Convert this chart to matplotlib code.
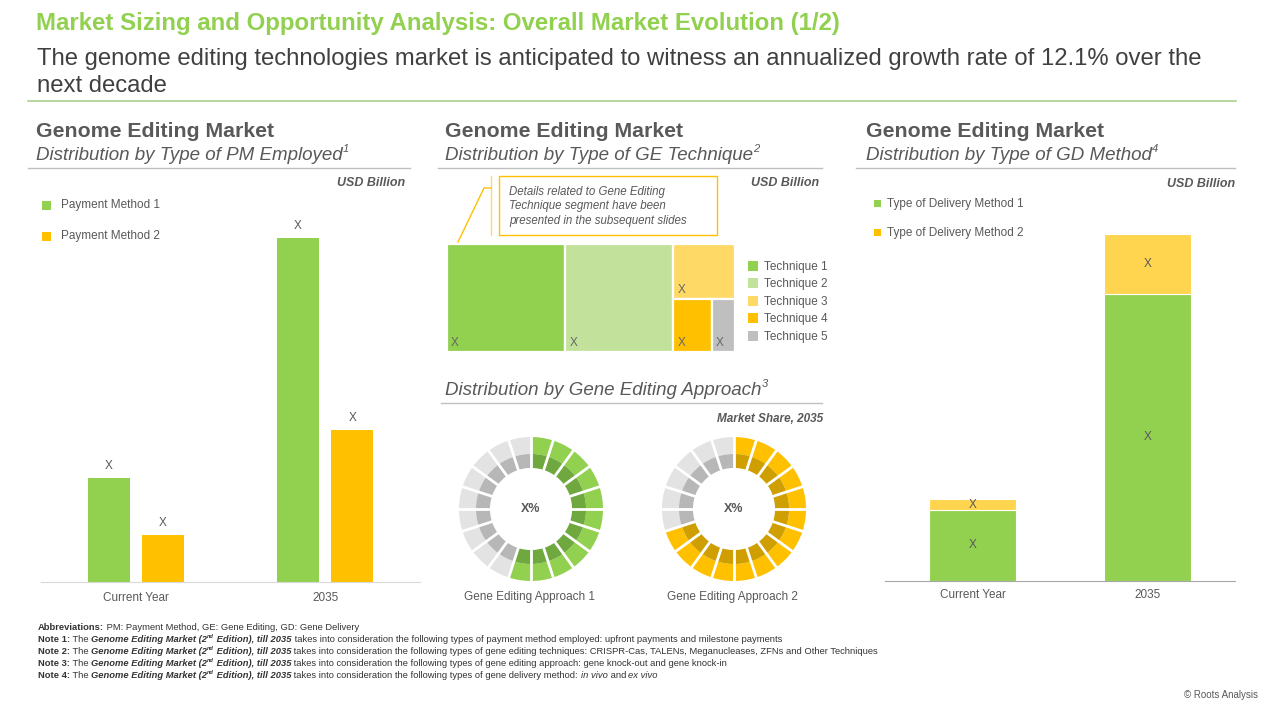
import matplotlib
matplotlib.use('Agg')
import matplotlib.pyplot as plt
from matplotlib.patches import Rectangle
from matplotlib.lines import Line2D
import numpy as np

plt.rcParams['font.family'] = ['Liberation Sans', 'DejaVu Sans']

# ---------------- data ----------------
pm_categories = ['Current Year', '2035']
pm_method1 = [1.04, 3.44]
pm_method2 = [0.47, 1.52]
pm_labels = ['Payment Method 1', 'Payment Method 2']

ge_techniques = ['Technique 1', 'Technique 2', 'Technique 3', 'Technique 4', 'Technique 5']
ge_values = [12.5, 11.4, 3.3, 2.0, 1.2]

approach_names = ['Gene Editing Approach 1', 'Gene Editing Approach 2']
approach_share = [55, 70]
approach_segments = 20

gd_categories = ['Current Year', '2035']
gd_method1 = [0.71, 2.87]
gd_method2 = [0.11, 0.60]
gd_labels = ['Type of Delivery Method 1', 'Type of Delivery Method 2']

value_text = 'X'

# ---------------- styles ----------------
GREEN = '#92D050'
YELLOW = '#FFC000'
LT_YELLOW = '#FFD54F'
LT_GREEN = '#C2E29B'
GREY = '#BFBFBF'
TXT = '#595959'
DARK = '#404040'

W, H = 1280, 720
fig = plt.figure(figsize=(12.8, 7.2), dpi=100)
fig.patch.set_facecolor('white')
R = fig.canvas.get_renderer()


def txt(x, y, s, size, color=TXT, weight='normal', style='normal', ha='left', va='baseline', **kw):
    return fig.text(x / W, 1 - y / H, s, fontsize=size, color=color, fontweight=weight,
                    fontstyle=style, ha=ha, va=va, **kw)


def fit(t, width):
    w = t.get_window_extent(R).width
    t.set_fontsize(t.get_fontsize() * width / w)
    return t


def hline(x0, x1, y, color, lw=1.0):
    fig.add_artist(Line2D([x0 / W, x1 / W], [1 - y / H, 1 - y / H], transform=fig.transFigure,
                          color=color, lw=lw))


def line(xs, ys, color, lw=1.0):
    fig.add_artist(Line2D([x / W for x in xs], [1 - y / H for y in ys], transform=fig.transFigure,
                          color=color, lw=lw))


def square(x, y, s, color):
    fig.add_artist(Rectangle((x / W, 1 - (y + s) / H), s / W, s / H, transform=fig.transFigure,
                             facecolor=color, edgecolor='none'))


def axes_px(x0, y0, x1, y1):
    return fig.add_axes([x0 / W, 1 - y1 / H, (x1 - x0) / W, (y1 - y0) / H])


def adv(s, size, weight, style):
    t1 = fig.text(0, 0, s + 'l', fontsize=size, fontweight=weight, fontstyle=style)
    t2 = fig.text(0, 0, 'l', fontsize=size, fontweight=weight, fontstyle=style)
    w = t1.get_window_extent(R).width - t2.get_window_extent(R).width
    t1.remove(); t2.remove()
    return w


def rich(x, y, parts, size, color=TXT):
    cur = x
    arts = []
    for p in parts:
        s = p[0]
        opt = p[1] if len(p) > 1 else ''
        weight = 'bold' if 'b' in opt else 'normal'
        style = 'italic' if 'i' in opt else 'normal'
        sz = size * 0.6 if 's' in opt else size
        yy = y - size * 0.42 * 100 / 72 if 's' in opt else y
        arts.append(txt(cur, yy, s, sz, color=color, weight=weight, style=style))
        cur += adv(s, sz, weight, style)
    return cur, arts


# ---------------- title area ----------------
t = txt(36, 30, 'Market Sizing and Opportunity Analysis: Overall Market Evolution (1/2)', 16,
        color=GREEN, weight='bold')
fit(t, 804)
t = txt(37, 65, 'The genome editing technologies market is anticipated to witness an annualized growth rate of 12.1% over the', 16,
        color=DARK)
fit(t, 1170)
txt(37, 92, 'next decade', t.get_fontsize(), color=DARK)
hline(28, 1236, 101, '#A9D18E', 1.2)

# ---------------- section headers ----------------
hdr = txt(36, 137, 'Genome Editing Market', 14, weight='bold')
fit(hdr, 238)
HS = hdr.get_fontsize()
txt(445, 137, 'Genome Editing Market', HS, weight='bold')
txt(866, 137, 'Genome Editing Market', HS, weight='bold')
sub = txt(36, 160, 'Distribution by Type of PM Employed', 12.5, style='italic')
fit(sub, 308)
SS = sub.get_fontsize()
sub.remove()
rich(36, 160, [('Distribution by Type of PM Employed', 'i'), ('1', 'is')], SS)
rich(445, 160, [('Distribution by Type of GE Technique', 'i'), ('2', 'is')], SS)
rich(866, 160, [('Distribution by Type of GD Method', 'i'), ('4', 'is')], SS)
rich(445, 395, [('Distribution by Gene Editing Approach', 'i'), ('3', 'is')], SS)

hline(28, 410, 168, '#BFBFBF', 1.0)
hline(438, 822, 168, '#BFBFBF', 1.0)
hline(856, 1235, 168, '#BFBFBF', 1.0)
hline(441, 822, 403, '#BFBFBF', 1.0)

txt(405, 186, 'USD Billion', 9, weight='bold', style='italic', ha='right')
txt(819, 186, 'USD Billion', 9, weight='bold', style='italic', ha='right')
txt(1235, 187, 'USD Billion', 9, weight='bold', style='italic', ha='right')
txt(823, 422, 'Market Share, 2035', 8.5, weight='bold', style='italic', ha='right')

# ---------------- left: payment method bars ----------------
ax1 = axes_px(41, 200, 420, 582)
x = np.arange(len(pm_categories))
off, bw = 0.143, 0.222
b1 = ax1.bar(x - off, pm_method1, bw, color=GREEN)
b2 = ax1.bar(x + off, pm_method2, bw, color=YELLOW)
for bars in (b1, b2):
    for b in bars:
        ax1.annotate(value_text, (b.get_x() + b.get_width() / 2, b.get_height()),
                     xytext=(0, 4), textcoords='offset points', ha='center', va='bottom',
                     fontsize=8.5, color=TXT)
ax1.set_xlim(-0.5, 1.5)
ax1.set_ylim(0, 3.82)
ax1.set_xticks(x)
ax1.set_xticklabels(pm_categories, fontsize=8.5, color=TXT)
ax1.tick_params(axis='x', length=0, pad=7)
ax1.set_yticks([])
for s in ('top', 'right', 'left'):
    ax1.spines[s].set_visible(False)
ax1.spines['bottom'].set_color('#D9D9D9')
ax1.patch.set_alpha(0)

for i, (lab, col) in enumerate(zip(pm_labels, [GREEN, YELLOW])):
    yy = 205 + i * 31
    square(42, yy - 4, 9, col)
    txt(61, yy + 3, lab, 8.5, color=TXT)

# ---------------- middle: treemap ----------------
axt = axes_px(447, 244, 735, 352)
TW, TH = 288.0, 108.0
total = sum(ge_values)
col3 = ge_values[2] + ge_values[3] + ge_values[4]
w1 = TW * ge_values[0] / total
w2 = TW * ge_values[1] / total
w3 = TW * col3 / total
h3 = TH * ge_values[2] / col3
w4 = w3 * ge_values[3] / (ge_values[3] + ge_values[4])
rects = [
    (0, 0, w1, TH),
    (w1, 0, w2, TH),
    (w1 + w2, 0, w3, h3),
    (w1 + w2, h3, w4, TH - h3),
    (w1 + w2 + w4, h3, w3 - w4, TH - h3),
]
tcolors = [GREEN, LT_GREEN, '#FFD966', YELLOW, GREY]
for (rx, ry, rw, rh), c in zip(rects, tcolors):
    axt.add_patch(Rectangle((rx, ry), rw, rh, facecolor=c, edgecolor='white', lw=1.6))
    axt.text(rx + 4, ry + rh - 3, value_text, fontsize=8.5, color='#666666', ha='left', va='bottom')
axt.set_xlim(0, TW)
axt.set_ylim(TH, 0)
axt.axis('off')

for i, (lab, c) in enumerate(zip(ge_techniques, tcolors)):
    yy = 266 + i * 17.4
    square(748, yy - 5, 10, c)
    txt(764, yy + 4, lab, 8.5, color=TXT)

# callout
fig.add_artist(Rectangle((499 / W, 1 - 235 / H), (717 - 499) / W, (235 - 176) / H,
                         transform=fig.transFigure, facecolor='white', edgecolor=YELLOW, lw=1.0))
line([491, 491], [176, 235], '#FFD966', 1.0)
line([491, 484, 458], [188, 188, 242], '#FFC000', 1.0)
for i, s in enumerate(['Details related to Gene Editing', 'Technique segment have been',
                       'presented in the subsequent slides']):
    txt(509, 195 + i * 14.3, s, 8.3, color=TXT, style='italic')

# ---------------- middle: donuts ----------------
donut_cols = [(GREEN, '#6FA83E'), (YELLOW, '#CF9E00')]
centers = [(531, 509), (734, 509)]
for (cx, cy), share, (c_out, c_in), name in zip(centers, approach_share, donut_cols, approach_names):
    r = 78
    ax = axes_px(cx - r, cy - r, cx + r, cy + r)
    k = int(round(share / 100 * approach_segments))
    outer = [c_out] * k + ['#E3E3E3'] * (approach_segments - k)
    inner = [c_in] * k + ['#B7B7B7'] * (approach_segments - k)
    seg = [1] * approach_segments
    ax.pie(seg, colors=outer, radius=1.0, startangle=90, counterclock=False,
           wedgeprops=dict(width=0.236, edgecolor='none'))
    ax.pie(seg, colors=inner, radius=0.764, startangle=90, counterclock=False,
           wedgeprops=dict(width=0.194, edgecolor='none'))
    for j in range(approach_segments):
        a = np.deg2rad(90 - j * 360 / approach_segments)
        ax.plot([0.5 * np.cos(a), 1.05 * np.cos(a)], [0.5 * np.sin(a), 1.05 * np.sin(a)],
                color='white', lw=2.0, solid_capstyle='butt')
    ax.text(0, 0, 'X%', ha='center', va='center', fontsize=9, fontweight='bold', color=TXT)
    lim = r / 72
    ax.set_xlim(-lim, lim)
    ax.set_ylim(-lim, lim)
    ax.set_aspect('equal')
    ax.axis('off')
    txt(cx - 2, 600, name, 8.5, color=TXT, ha='center')

# ---------------- right: delivery method stacked bars ----------------
ax3 = axes_px(885, 200, 1235, 581)
x = np.arange(len(gd_categories))
g1 = ax3.bar(x, gd_method1, 0.5, color=GREEN, edgecolor='white', lw=0.8)
g2 = ax3.bar(x, gd_method2, 0.5, bottom=gd_method1, color=LT_YELLOW, edgecolor='white', lw=0.8)
for i in range(len(x)):
    ax3.text(x[i], gd_method1[i] / 2, value_text, ha='center', va='center', fontsize=8.5, color=TXT)
    ax3.text(x[i], gd_method1[i] + gd_method2[i] / 2, value_text, ha='center', va='center',
             fontsize=8.5, color=TXT)
ax3.set_xlim(-0.5, 1.5)
ax3.set_ylim(0, 3.81)
ax3.set_xticks(x)
ax3.set_xticklabels(gd_categories, fontsize=8.5, color=TXT)
ax3.tick_params(axis='x', length=0, pad=6)
ax3.set_yticks([])
for s in ('top', 'right', 'left'):
    ax3.spines[s].set_visible(False)
ax3.spines['bottom'].set_color('#A6A6A6')
ax3.patch.set_alpha(0)

for i, (lab, col) in enumerate(zip(gd_labels, [GREEN, YELLOW])):
    yy = 203 + i * 29
    square(874, yy - 3, 7, col)
    txt(887, yy + 4, lab, 8.5, color=TXT)


# ---------------- footnotes ----------------
def notes(size):
    arts = []
    end = 0
    rows = [
        [('Abbreviations:', 'b'), (' PM: Payment Method, GE: Gene Editing, GD: Gene Delivery',)],
        [('Note 1:', 'b'), (' The ',), ('Genome Editing Market (2', 'bi'), ('nd', 'bis'), (' Edition), till 2035', 'bi'),
         (' takes into consideration the following types of payment method employed: upfront payments and milestone payments',)],
        [('Note 2:', 'b'), (' The ',), ('Genome Editing Market (2', 'bi'), ('nd', 'bis'), (' Edition), till 2035', 'bi'),
         (' takes into consideration the following types of gene editing techniques: CRISPR-Cas, TALENs, Meganucleases, ZFNs and Other Techniques',)],
        [('Note 3:', 'b'), (' The ',), ('Genome Editing Market (2', 'bi'), ('nd', 'bis'), (' Edition), till 2035', 'bi'),
         (' takes into consideration the following types of gene editing approach: gene knock-out and gene knock-in',)],
        [('Note 4:', 'b'), (' The ',), ('Genome Editing Market (2', 'bi'), ('nd', 'bis'), (' Edition), till 2035', 'bi'),
         (' takes into consideration the following types of gene delivery method: ',), ('in vivo', 'i'), (' and ',), ('ex vivo', 'i')],
    ]
    for i, row in enumerate(rows):
        e, a = rich(38, 630 + i * 12, row, size, color='#333333')
        arts += a
        end = max(end, e)
    return end, arts


end, arts = notes(7)
for a in arts:
    a.remove()
fs = 7 * (877 - 38) / (end - 38)
notes(fs)

txt(1258, 698, '\u00a9 Roots Analysis', 7, color=TXT, ha='right')

fig.savefig('out.png', dpi=100, facecolor='white')
